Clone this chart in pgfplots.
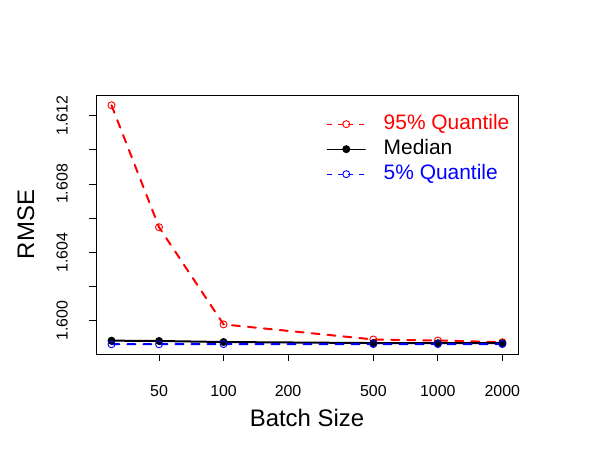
\documentclass[border=0pt]{standalone}
\usepackage{fontspec}
\setmainfont{Liberation Sans}
\usepackage{pgfplots}
\pgfplotsset{compat=1.18}
\begin{document}
\begin{tikzpicture}
\path[use as bounding box] (0,0) rectangle (614bp,450bp);
\begin{axis}[
  at={(96bp,96bp)}, anchor=south west,
  scale only axis, width=422bp, height=259bp,
  xmode=log, xmin=25.4, xmax=2366,
  ymin=1.59806, ymax=1.61320,
  axis line style={line width=0.8bp},
  xtick={50,100,200,500,1000,2000},
  xticklabels={50,100,200,500,1000,2000},
  ytick={1.600,1.602,1.604,1.606,1.608,1.610,1.612},
  yticklabels={1.600,,1.604,,1.608,,1.612},
  xminorticks=false, yminorticks=false,
  tick align=outside, xtick pos=bottom, ytick pos=left,
  major tick length=7bp,
  tick style={line width=0.8bp, black},
  ticklabel style={font=\fontsize{16}{16}\selectfont, inner sep=0pt},
  xticklabel style={anchor=north, yshift=-24bp},
  yticklabel style={xshift=-21bp, rotate=90, anchor=south},
  xlabel={Batch Size}, ylabel={RMSE},
  label style={font=\fontsize{24}{24}\selectfont},
  xlabel style={at={(axis description cs:0.5,-0.2807)}, anchor=base, inner sep=0pt},
  ylabel style={at={(axis description cs:-0.166,0.5)}, anchor=center, inner sep=0pt},
  legend style={at={(axis description cs:0.547,0.925)}, anchor=north west,
    draw=none, fill=none, inner sep=0pt, outer sep=0pt,
    font=\fontsize{21}{21}\selectfont,
    nodes={inner sep=0pt, text height=15bp, text depth=4.5bp},
    row sep=5.5bp, column sep=18bp},
  legend cell align=left,
  legend image code/.code={\draw[mark repeat=2,mark phase=2,#1] plot coordinates {(0bp,0bp) (19bp,0bp) (38bp,0bp)};},
]
\addplot[red, line width=2bp, line cap=round, dash pattern=on 8bp off 8bp,
  mark=o, mark size=3.5bp, mark options={solid, line width=0.9bp},
  legend image post style={line width=0.9bp, line cap=butt, dash pattern=on 5bp off 5.5bp}]
  coordinates {(30,1.6126) (50,1.60547) (100,1.59979) (500,1.59891) (1000,1.59885) (2000,1.59875)};
\addlegendentry{\textcolor{red}{95\% Quantile}}
\addplot[black, line width=2bp, line cap=round, solid,
  mark=*, mark size=3.5bp, mark options={solid, line width=0.9bp},
  legend image post style={line width=0.9bp}]
  coordinates {(30,1.59884) (50,1.59882) (100,1.59876) (500,1.59870) (1000,1.59869) (2000,1.59869)};
\addlegendentry{Median}
\addplot[blue, line width=2bp, line cap=round, dash pattern=on 8bp off 8bp,
  mark=o, mark size=3.5bp, mark options={solid, line width=0.9bp},
  legend image post style={line width=0.9bp, line cap=butt, dash pattern=on 5bp off 5.5bp}]
  coordinates {(30,1.59863) (50,1.59863) (100,1.59864) (500,1.59864) (1000,1.59864) (2000,1.59864)};
\addlegendentry{\textcolor{blue}{5\% Quantile}}
\end{axis}
\end{tikzpicture}
\end{document}
